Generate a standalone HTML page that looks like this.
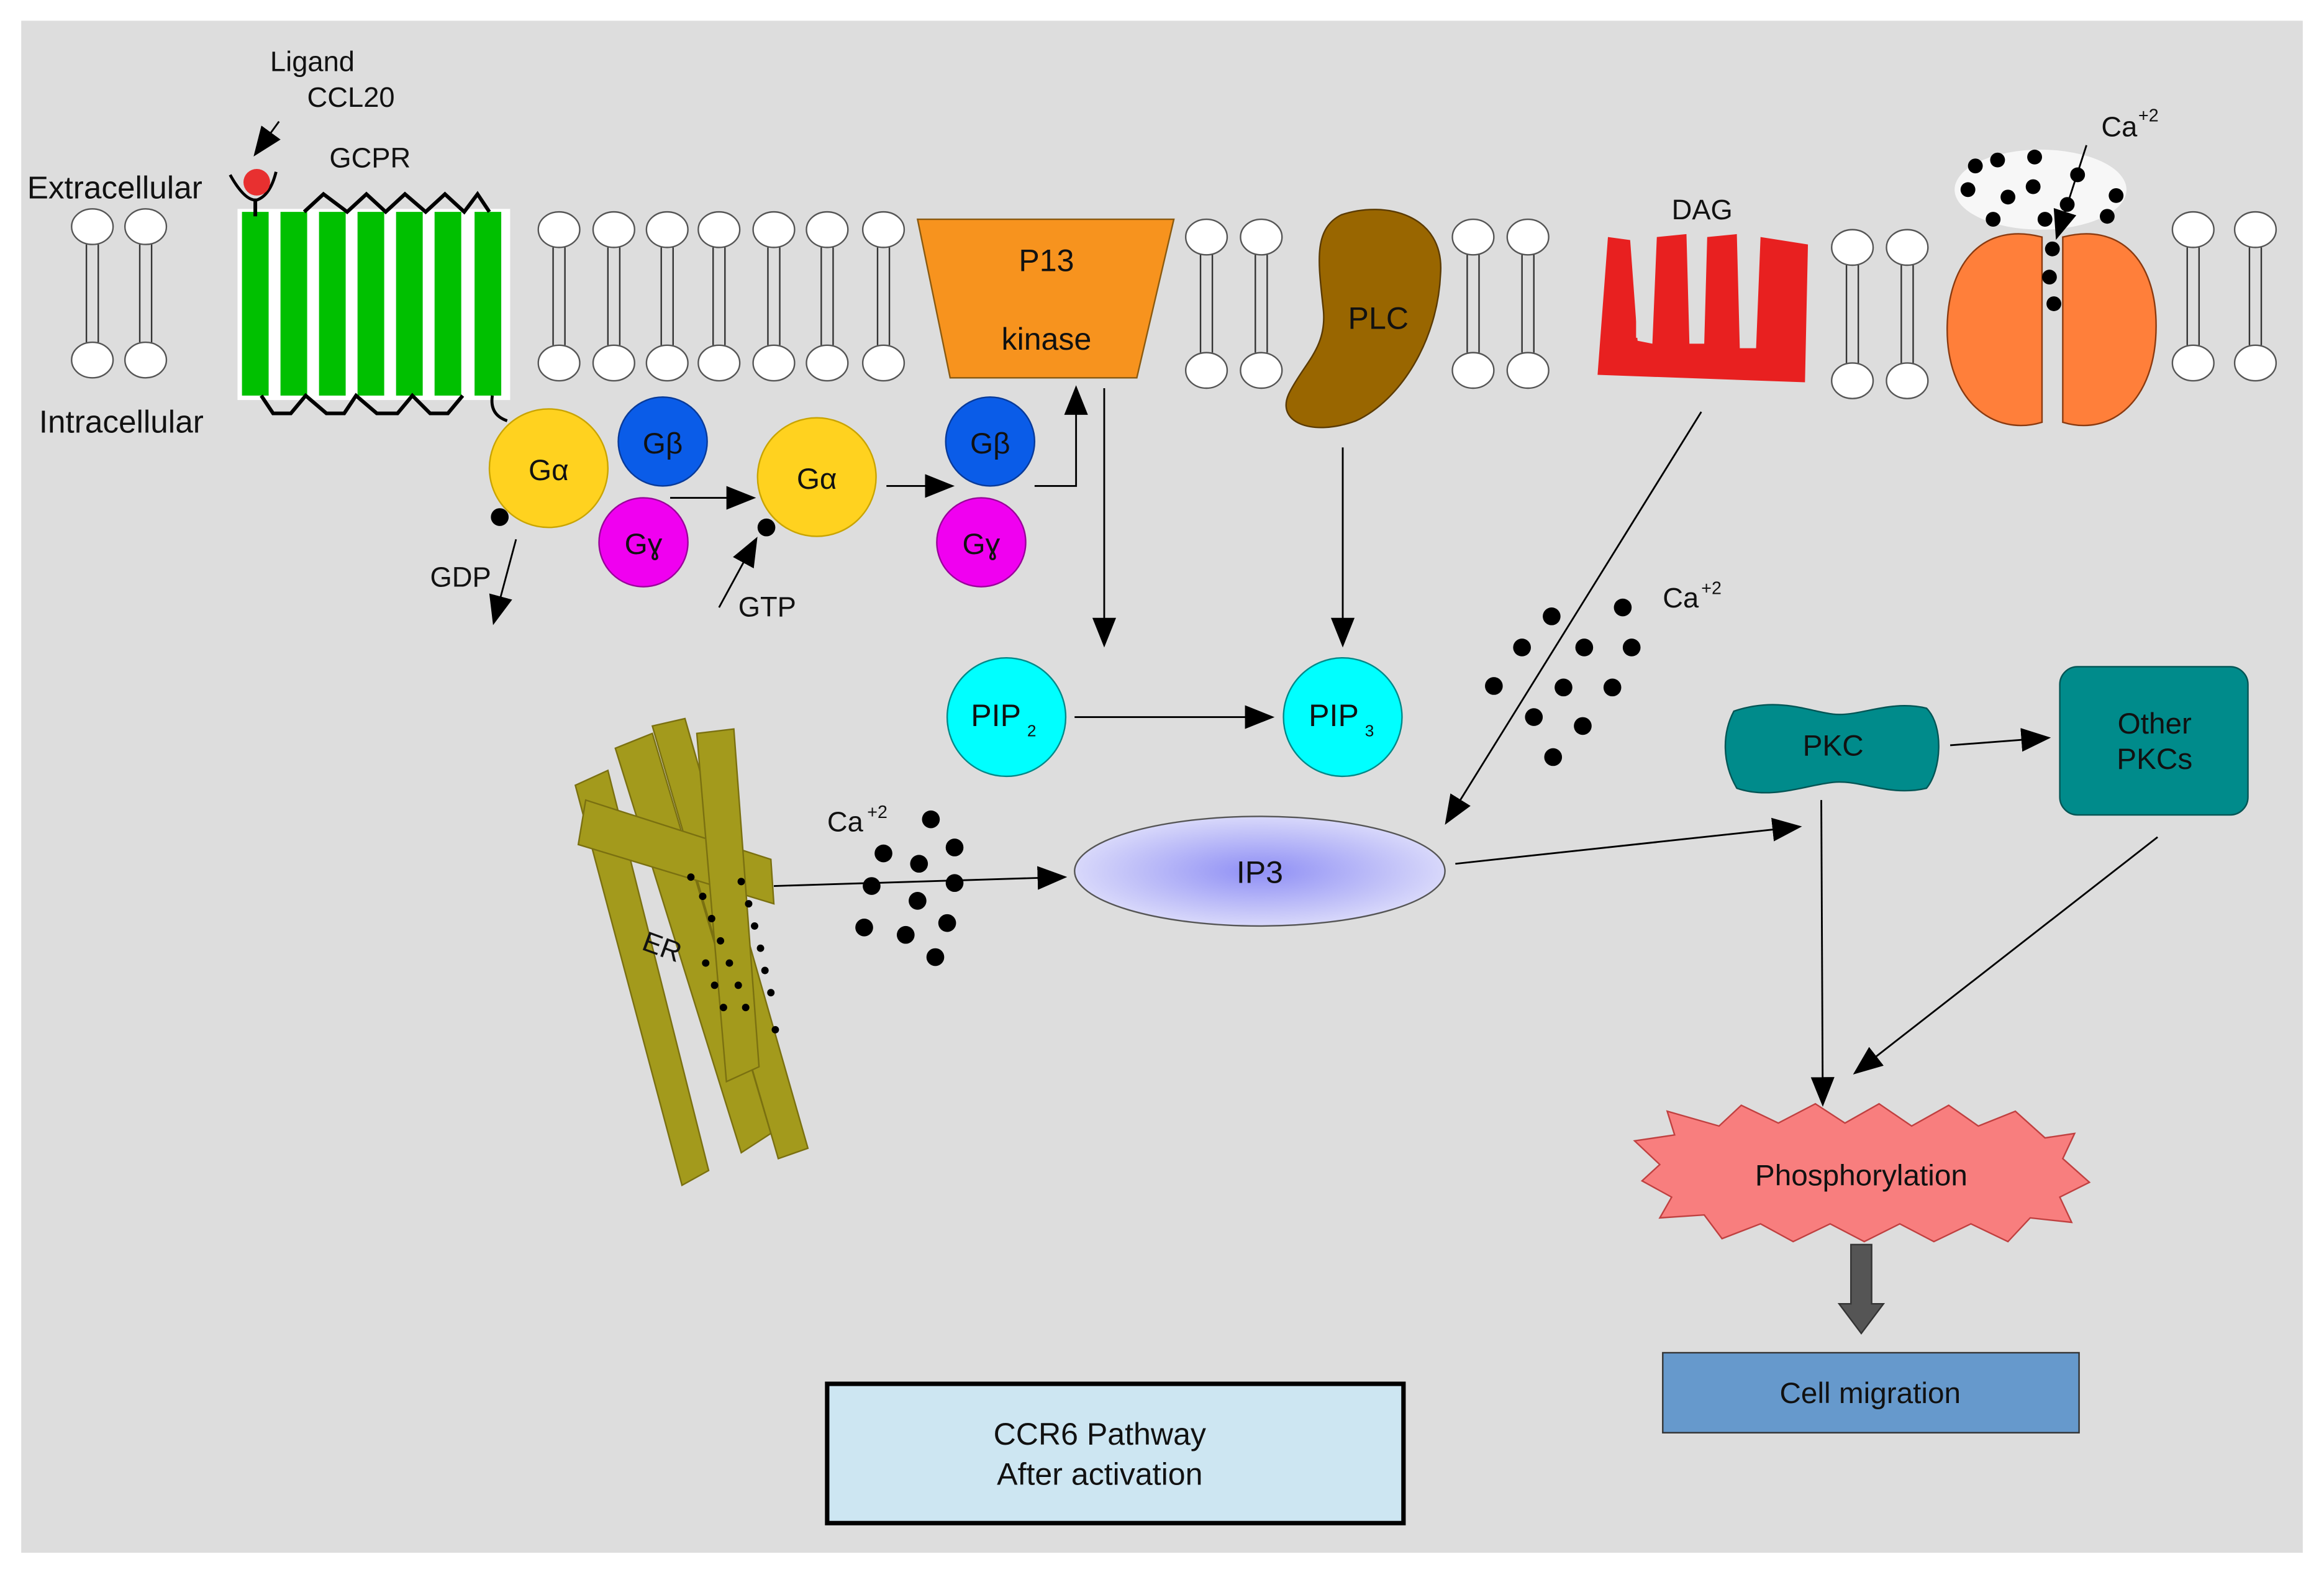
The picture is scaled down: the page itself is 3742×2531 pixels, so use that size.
<!DOCTYPE html>
<html><head><meta charset="utf-8"><style>
html,body{margin:0;padding:0;background:#fff}
svg{display:block}
text{font-family:"Liberation Sans",Arial,sans-serif;fill:#111}
</style></head><body>
<svg width="3742" height="2531" viewBox="0 0 1568 1061" xmlns="http://www.w3.org/2000/svg">
<defs>
<marker id="ahb" markerWidth="20" markerHeight="20" refX="18" refY="10" orient="auto" markerUnits="userSpaceOnUse" viewBox="0 0 20 20"><path d="M0,2 L20,10 L0,18 z" fill="#000"/></marker>
<radialGradient id="ipg" cx="50%" cy="50%" r="50%"><stop offset="0" stop-color="#8f8ff5"/><stop offset="1" stop-color="#d8d8fa"/></radialGradient>
<g id="lip">
<ellipse cx="0" cy="0" rx="14" ry="12" fill="#fff" stroke="#555" stroke-width="1"/>
<line x1="-4" y1="12" x2="-4" y2="78" stroke="#333" stroke-width="1"/>
<line x1="4" y1="12" x2="4" y2="78" stroke="#333" stroke-width="1"/>
<ellipse cx="0" cy="90" rx="14" ry="12" fill="#fff" stroke="#555" stroke-width="1"/>
</g>
</defs>
<rect x="0" y="0" width="1568" height="1061" fill="#fff"/>
<rect x="14" y="14" width="1540" height="1034" fill="#dddddd"/>

<use href="#lip" x="62" y="153"/><use href="#lip" x="98" y="153"/>
<use href="#lip" x="377" y="155"/><use href="#lip" x="414" y="155"/><use href="#lip" x="450" y="155"/><use href="#lip" x="485" y="155"/><use href="#lip" x="522" y="155"/><use href="#lip" x="558" y="155"/><use href="#lip" x="596" y="155"/>
<use href="#lip" x="814" y="160"/><use href="#lip" x="851" y="160"/>
<use href="#lip" x="994" y="160"/><use href="#lip" x="1031" y="160"/>
<use href="#lip" x="1250" y="167"/><use href="#lip" x="1287" y="167"/>
<use href="#lip" x="1480" y="155"/><use href="#lip" x="1522" y="155"/>

<rect x="160" y="141" width="184" height="129" fill="#fff"/>
<g fill="#00c000">
<rect x="163" y="143" width="18" height="124"/><rect x="189" y="143" width="18" height="124"/><rect x="215" y="143" width="18" height="124"/><rect x="241" y="143" width="18" height="124"/><rect x="267" y="143" width="18" height="124"/><rect x="293" y="143" width="18" height="124"/><rect x="320" y="143" width="18" height="124"/>
</g>
<polyline points="205,143 218,131 234,143 247,131 260,143 273,131 287,143 300,131 313,143 322,131 330,143" fill="none" stroke="#000" stroke-width="2.5"/>
<polyline points="176,267 184,279 196,279 206,267 220,279 232,279 240,267 254,279 268,279 278,267 290,279 302,279 312,267" fill="none" stroke="#000" stroke-width="2.5"/>
<path d="M332,267 Q330,280 342,284" fill="none" stroke="#000" stroke-width="2"/>
<path d="M155,118 Q165,136 173,135 Q182,132 186,116" fill="none" stroke="#000" stroke-width="2"/>
<line x1="172" y1="134" x2="172" y2="146" stroke="#000" stroke-width="2.5"/>
<circle cx="173" cy="123" r="9" fill="#e83030"/>
<line x1="188" y1="82" x2="172" y2="104" stroke="#000" stroke-width="1.2" marker-end="url(#ahb)"/>
<text x="182" y="48" font-size="19">Ligand</text>
<text x="207" y="72" font-size="19">CCL20</text>
<text x="222" y="113" font-size="19">GCPR</text>
<text x="18" y="134" font-size="21.5">Extracellular</text>
<text x="26" y="292" font-size="21.5">Intracellular</text>

<circle cx="370" cy="316" r="40" fill="#ffd21f" stroke="#c9a400"/>
<circle cx="447" cy="298" r="30" fill="#0a5ce8" stroke="#083a99"/>
<circle cx="434" cy="366" r="30" fill="#f000f0" stroke="#990099"/>
<circle cx="551" cy="322" r="40" fill="#ffd21f" stroke="#c9a400"/>
<circle cx="668" cy="298" r="30" fill="#0a5ce8" stroke="#083a99"/>
<circle cx="662" cy="366" r="30" fill="#f000f0" stroke="#990099"/>
<text x="370" y="324" font-size="20" text-anchor="middle">Gα</text>
<text x="447" y="306" font-size="20" text-anchor="middle">Gβ</text>
<text x="434" y="374" font-size="20" text-anchor="middle">Gɣ</text>
<text x="551" y="330" font-size="20" text-anchor="middle">Gα</text>
<text x="668" y="306" font-size="20" text-anchor="middle">Gβ</text>
<text x="662" y="374" font-size="20" text-anchor="middle">Gɣ</text>
<circle cx="337" cy="349" r="6" fill="#000"/>
<circle cx="517" cy="356" r="6" fill="#000"/>
<line x1="348" y1="364" x2="333" y2="420" stroke="#000" stroke-width="1.2" marker-end="url(#ahb)"/>
<text x="290" y="396" font-size="19">GDP</text>
<line x1="485" y1="410" x2="510" y2="364" stroke="#000" stroke-width="1.2" marker-end="url(#ahb)"/>
<text x="498" y="416" font-size="19">GTP</text>
<line x1="452" y1="336" x2="508" y2="336" stroke="#000" stroke-width="1.2" marker-end="url(#ahb)"/>
<line x1="598" y1="328" x2="642" y2="328" stroke="#000" stroke-width="1.2" marker-end="url(#ahb)"/>
<polyline points="698,328 726,328 726,262" fill="none" stroke="#000" stroke-width="1.2" marker-end="url(#ahb)"/>

<polygon points="619,148 792,148 767,255 641,255" fill="#f7931e" stroke="#8a5a10" stroke-width="1"/>
<text x="706" y="183" font-size="21" text-anchor="middle">P13</text>
<text x="706" y="236" font-size="21" text-anchor="middle">kinase</text>
<path d="M905,145 C935,135 975,145 972,185 C970,230 945,270 915,284 C885,295 860,285 870,265 C880,245 895,235 893,210 C890,180 885,155 905,145 Z" fill="#996600" stroke="#5a3a00"/>
<text x="930" y="222" font-size="21" text-anchor="middle">PLC</text>
<path d="M1085,160 L1100,162 L1105,230 L1115,232 L1118,160 L1138,158 L1140,232 L1150,232 L1152,160 L1172,158 L1174,235 L1185,235 L1188,160 L1220,165 L1218,258 L1078,253 Z" fill="#e82020"/>
<path d="M1104,168 L1112,168 L1112,228 L1104,228 Z M1140,165 L1148,165 L1148,228 L1140,228 Z M1177,165 L1185,165 L1185,230 L1177,230 Z" fill="#dddddd"/>
<text x="1128" y="148" font-size="19">DAG</text>
<path d="M1378,160 C1340,150 1315,175 1314,220 C1313,270 1345,295 1378,285 Z" fill="#ff7f3a" stroke="#8a3a10"/>
<path d="M1392,160 C1430,150 1455,175 1455,220 C1455,270 1425,295 1392,285 Z" fill="#ff7f3a" stroke="#8a3a10"/>
<ellipse cx="1377" cy="128" rx="58" ry="27" fill="#fff" opacity="0.75"/>
<g fill="#000">
<circle cx="1333" cy="112" r="5"/><circle cx="1348" cy="108" r="5"/><circle cx="1373" cy="106" r="5"/><circle cx="1402" cy="118" r="5"/><circle cx="1428" cy="132" r="5"/>
<circle cx="1328" cy="128" r="5"/><circle cx="1355" cy="133" r="5"/><circle cx="1372" cy="126" r="5"/><circle cx="1395" cy="138" r="5"/><circle cx="1422" cy="146" r="5"/>
<circle cx="1345" cy="148" r="5"/><circle cx="1380" cy="148" r="5"/>
<circle cx="1385" cy="168" r="5"/><circle cx="1383" cy="187" r="5"/><circle cx="1386" cy="205" r="5"/>
</g>
<line x1="1408" y1="98" x2="1388" y2="160" stroke="#000" stroke-width="1.2" marker-end="url(#ahb)"/>
<text x="1418" y="92" font-size="19">Ca</text><text x="1443" y="82" font-size="12">+2</text>

<line x1="745" y1="262" x2="745" y2="435" stroke="#000" stroke-width="1.2" marker-end="url(#ahb)"/>
<line x1="906" y1="302" x2="906" y2="435" stroke="#000" stroke-width="1.2" marker-end="url(#ahb)"/>
<line x1="1148" y1="278" x2="976" y2="555" stroke="#000" stroke-width="1.2" marker-end="url(#ahb)"/>
<g fill="#000">
<circle cx="1047" cy="416" r="6"/><circle cx="1095" cy="410" r="6"/><circle cx="1027" cy="437" r="6"/><circle cx="1069" cy="437" r="6"/><circle cx="1101" cy="437" r="6"/>
<circle cx="1008" cy="463" r="6"/><circle cx="1055" cy="464" r="6"/><circle cx="1088" cy="464" r="6"/><circle cx="1035" cy="484" r="6"/><circle cx="1068" cy="490" r="6"/><circle cx="1048" cy="511" r="6"/>
</g>
<text x="1122" y="410" font-size="19">Ca</text><text x="1148" y="401" font-size="12">+2</text>

<circle cx="679" cy="484" r="40" fill="#00ffff" stroke="#008888"/>
<circle cx="906" cy="484" r="40" fill="#00ffff" stroke="#008888"/>
<text x="655" y="490" font-size="21">PIP</text><text x="693" y="497" font-size="11">2</text>
<text x="883" y="490" font-size="21">PIP</text><text x="921" y="497" font-size="11">3</text>
<line x1="725" y1="484" x2="858" y2="484" stroke="#000" stroke-width="1.2" marker-end="url(#ahb)"/>

<ellipse cx="850" cy="588" rx="125" ry="37" fill="url(#ipg)" stroke="#555"/>
<text x="850" y="596" font-size="21" text-anchor="middle">IP3</text>

<g fill="#a39a1c" stroke="#7a7010" stroke-width="1">
<polygon points="388,530 410,520 478,790 460,800"/>
<polygon points="415,505 440,495 520,765 500,778"/>
<polygon points="440,490 462,485 545,775 525,782"/>
<polygon points="395,540 520,580 522,610 390,570"/>
<polygon points="470,495 495,492 512,720 490,730"/>
</g>
<g fill="#000">
<circle cx="466" cy="592" r="2.5"/><circle cx="474" cy="605" r="2.5"/><circle cx="480" cy="620" r="2.5"/><circle cx="486" cy="635" r="2.5"/><circle cx="492" cy="650" r="2.5"/><circle cx="498" cy="665" r="2.5"/><circle cx="503" cy="680" r="2.5"/>
<circle cx="500" cy="595" r="2.5"/><circle cx="505" cy="610" r="2.5"/><circle cx="509" cy="625" r="2.5"/><circle cx="513" cy="640" r="2.5"/><circle cx="516" cy="655" r="2.5"/><circle cx="520" cy="670" r="2.5"/><circle cx="523" cy="695" r="2.5"/>
<circle cx="476" cy="650" r="2.5"/><circle cx="482" cy="665" r="2.5"/><circle cx="488" cy="680" r="2.5"/>
</g>
<text x="433" y="645" font-size="19" transform="rotate(20 445 640)">ER</text>
<line x1="522" y1="598" x2="718" y2="592" stroke="#000" stroke-width="1.2" marker-end="url(#ahb)"/>
<g fill="#000">
<circle cx="628" cy="553" r="6"/><circle cx="596" cy="576" r="6"/><circle cx="620" cy="583" r="6"/><circle cx="644" cy="572" r="6"/><circle cx="588" cy="598" r="6"/><circle cx="644" cy="596" r="6"/>
<circle cx="619" cy="608" r="6"/><circle cx="583" cy="626" r="6"/><circle cx="611" cy="631" r="6"/><circle cx="639" cy="623" r="6"/><circle cx="631" cy="646" r="6"/>
</g>
<text x="558" y="561" font-size="19">Ca</text><text x="585" y="552" font-size="12">+2</text>

<path d="M1170,480 C1200,470 1220,480 1237,482 C1255,484 1275,472 1300,478 C1312,490 1310,520 1300,532 C1275,538 1255,526 1237,528 C1218,530 1195,540 1172,532 C1162,515 1162,495 1170,480 Z" fill="#008b8b" stroke="#005555"/>
<text x="1237" y="510" font-size="20" text-anchor="middle">PKC</text>
<rect x="1390" y="450" width="127" height="100" rx="12" fill="#008b8b" stroke="#005555"/>
<text x="1454" y="495" font-size="20" text-anchor="middle">Other</text>
<text x="1454" y="519" font-size="20" text-anchor="middle">PKCs</text>
<line x1="1316" y1="503" x2="1382" y2="498" stroke="#000" stroke-width="1.2" marker-end="url(#ahb)"/>
<line x1="982" y1="583" x2="1214" y2="558" stroke="#000" stroke-width="1.2" marker-end="url(#ahb)"/>
<line x1="1229" y1="540" x2="1230" y2="745" stroke="#000" stroke-width="1.2" marker-end="url(#ahb)"/>
<line x1="1456" y1="565" x2="1252" y2="724" stroke="#000" stroke-width="1.2" marker-end="url(#ahb)"/>

<polygon points="1103,770 1130,766 1125,750 1160,760 1175,746 1200,758 1225,745 1245,758 1268,745 1290,760 1315,746 1335,760 1360,750 1380,768 1400,765 1392,782 1410,798 1390,808 1398,825 1370,822 1355,838 1330,826 1305,838 1282,826 1258,838 1235,826 1210,838 1188,826 1162,836 1150,820 1120,822 1128,808 1108,797 1120,786 Z" fill="#f87e7e" stroke="#c04040"/>
<text x="1256" y="800" font-size="20" text-anchor="middle">Phosphorylation</text>
<polygon points="1249,840 1263,840 1263,880 1271,880 1256,900 1241,880 1249,880" fill="#555" stroke="#333"/>
<rect x="1122" y="913" width="281" height="54" fill="#6699cc" stroke="#333"/>
<text x="1262" y="947" font-size="20" text-anchor="middle">Cell migration</text>

<rect x="558" y="934" width="389" height="94" fill="#cde6f2" stroke="#000" stroke-width="3"/>
<text x="742" y="975" font-size="21" text-anchor="middle">CCR6 Pathway</text>
<text x="742" y="1002" font-size="21" text-anchor="middle">After activation</text>
</svg>
</body></html>
